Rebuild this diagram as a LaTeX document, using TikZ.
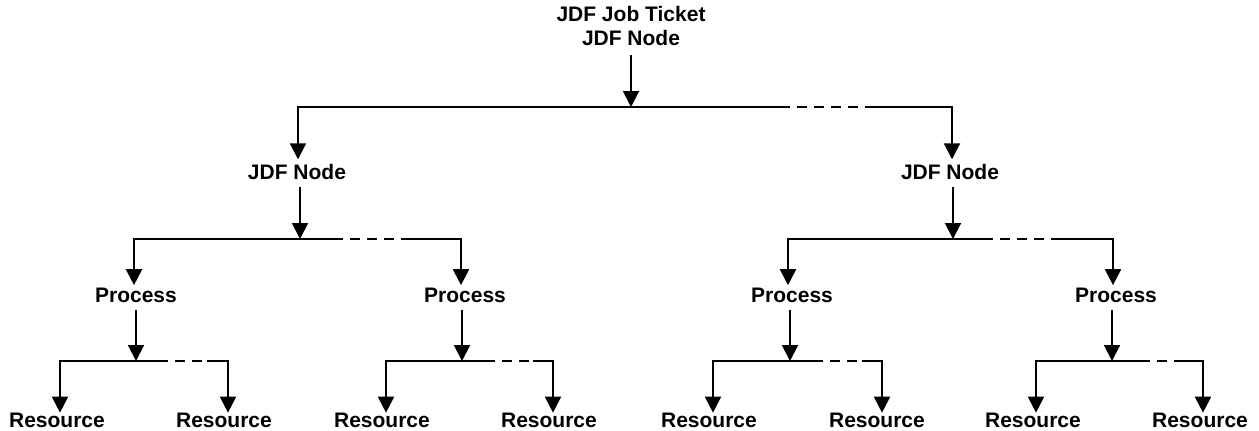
\documentclass[tikz,border=0pt]{standalone}
\usepackage{fontspec}
\setmainfont{Liberation Sans}
\usetikzlibrary{arrows.meta}
\begin{document}
\begin{tikzpicture}[x=1pt,y=-1pt,
  lbl/.style={font=\fontsize{21}{24}\selectfont\bfseries, inner sep=0pt, outer sep=0pt, align=center},
  ln/.style={line width=2pt},
  arr/.style={line width=2pt, -{Triangle[width=16pt,length=16pt]}},
  dsh/.style={line width=2pt, dash pattern=on 10pt off 7pt, dash phase=10pt}]
\useasboundingbox (0,0) rectangle (1259,431);

% nodes
\node[lbl] (T) at (631,26) {JDF Job Ticket\\JDF Node};
\node[lbl] (N1) at (297,172) {JDF Node};
\node[lbl] (N2) at (950,172) {JDF Node};
\node[lbl] (P1) at (136,295) {Process};
\node[lbl] (P2) at (465,295) {Process};
\node[lbl] (P3) at (792,295) {Process};
\node[lbl] (P4) at (1116,295) {Process};
\node[lbl] (R1) at (57,420) {Resource};
\node[lbl] (R2) at (224,420) {Resource};
\node[lbl] (R3) at (382,420) {Resource};
\node[lbl] (R4) at (549,420) {Resource};
\node[lbl] (R5) at (709,420) {Resource};
\node[lbl] (R6) at (877,420) {Resource};
\node[lbl] (R7) at (1033,420) {Resource};
\node[lbl] (R8) at (1200,420) {Resource};

% bar coordinates
\coordinate (a0L) at (298,107); \coordinate (a0) at (631,107); \coordinate (a0R) at (952,107);
\coordinate (d0a) at (790,107); \coordinate (d0b) at (873,107);
\coordinate (a1L) at (134,239); \coordinate (a1) at (300,239); \coordinate (a1R) at (461,239);
\coordinate (d1a) at (343,239); \coordinate (d1b) at (403,239);
\coordinate (a2L) at (788,239); \coordinate (a2) at (953,239); \coordinate (a2R) at (1113,239);
\coordinate (d2a) at (993,239); \coordinate (d2b) at (1055,239);
\coordinate (b1L) at (60,361); \coordinate (b1) at (136,361); \coordinate (b1R) at (228,361);
\coordinate (e1a) at (168,361); \coordinate (e1b) at (207,361);
\coordinate (b2L) at (386,361); \coordinate (b2) at (462,361); \coordinate (b2R) at (553,361);
\coordinate (e2a) at (495,361); \coordinate (e2b) at (533,361);
\coordinate (b3L) at (713,361); \coordinate (b3) at (790,361); \coordinate (b3R) at (882,361);
\coordinate (e3a) at (823,361); \coordinate (e3b) at (862,361);
\coordinate (b4L) at (1036,361); \coordinate (b4) at (1112,361); \coordinate (b4R) at (1203,361);
\coordinate (e4a) at (1150,361); \coordinate (e4b) at (1183,361);

% level 0
\draw[arr, shorten <=9pt] (T.south) -- (a0);
\draw[arr, shorten >=5pt] (a0) -- (a0L) -- (a0L |- N1.north);
\draw[ln] (a0) -- (d0a);
\draw[dsh] (d0a) -- (d0b);
\draw[arr, shorten >=5pt] (d0b) -- (a0R) -- (a0R |- N2.north);

% level 1
\draw[arr, shorten <=7.5pt] (a1 |- N1.south) -- (a1);
\draw[arr, shorten >=2.5pt] (a1) -- (a1L) -- (a1L |- P1.north);
\draw[ln] (a1) -- (d1a);
\draw[dsh] (d1a) -- (d1b);
\draw[arr, shorten >=2.5pt] (d1b) -- (a1R) -- (a1R |- P2.north);

\draw[arr, shorten <=7.5pt] (a2 |- N2.south) -- (a2);
\draw[arr, shorten >=2.5pt] (a2) -- (a2L) -- (a2L |- P3.north);
\draw[ln] (a2) -- (d2a);
\draw[dsh] (d2a) -- (d2b);
\draw[arr, shorten >=2.5pt] (d2b) -- (a2R) -- (a2R |- P4.north);

% level 2
\draw[arr, shorten <=7.5pt] (b1 |- P1.south) -- (b1);
\draw[arr] (b1) -- (b1L) -- (b1L |- R1.north);
\draw[ln] (b1) -- (e1a);
\draw[dsh] (e1a) -- (e1b);
\draw[arr] (e1b) -- (b1R) -- (b1R |- R2.north);

\draw[arr, shorten <=7.5pt] (b2 |- P2.south) -- (b2);
\draw[arr] (b2) -- (b2L) -- (b2L |- R3.north);
\draw[ln] (b2) -- (e2a);
\draw[dsh] (e2a) -- (e2b);
\draw[arr] (e2b) -- (b2R) -- (b2R |- R4.north);

\draw[arr, shorten <=7.5pt] (b3 |- P3.south) -- (b3);
\draw[arr] (b3) -- (b3L) -- (b3L |- R5.north);
\draw[ln] (b3) -- (e3a);
\draw[dsh] (e3a) -- (e3b);
\draw[arr] (e3b) -- (b3R) -- (b3R |- R6.north);

\draw[arr, shorten <=7.5pt] (b4 |- P4.south) -- (b4);
\draw[arr] (b4) -- (b4L) -- (b4L |- R7.north);
\draw[ln] (b4) -- (e4a);
\draw[dsh] (e4a) -- (e4b);
\draw[arr] (e4b) -- (b4R) -- (b4R |- R8.north);
\end{tikzpicture}
\end{document}
